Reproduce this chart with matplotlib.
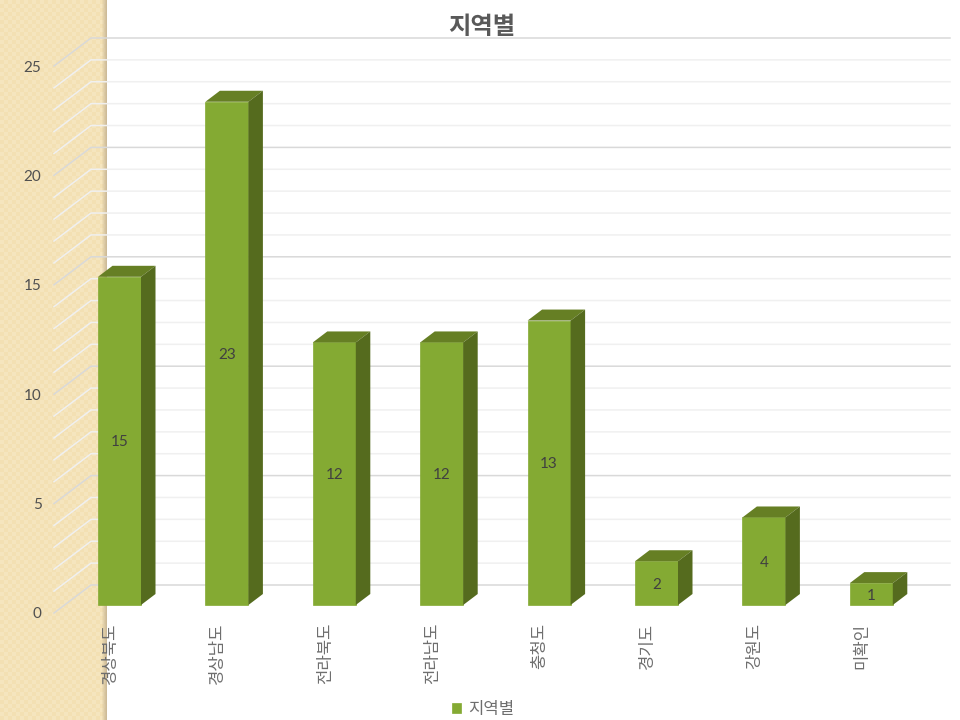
import numpy as np
import matplotlib
matplotlib.use('Agg')
import matplotlib.pyplot as plt

plt.rcParams['font.family'] = ['Lato', 'Noto Sans CJK KR', 'DejaVu Sans']

regions = ['경상북도', '경상남도', '전라북도', '전라남도', '충청도', '경기도', '강원도', '미확인']
counts = [15, 23, 12, 12, 13, 2, 4, 1]
y_ticks = [0, 5, 10, 15, 20, 25]
grid_values = list(range(0, 26))
series_name = '지역별'

W, H = 960, 720
# pixel geometry of the plot box
left, right, top, bottom = 54, 950, 38, 613
cat_px = 107.4
val_px = 21.88
first_bar_px = 119.5

# fake 3d offsets, converted to data units
lift = 8 / val_px
bar_dx = 14.5 / cat_px
bar_dy = 11 / val_px
wall_dx = 37 / cat_px
wall_dy = 28 / val_px
bar_width = 43 / cat_px

fig = plt.figure(figsize=(W / 100, H / 100), dpi=100, facecolor='white')

# tan side panel of the slide, behind the chart
panel = fig.add_axes([0, 0, 107 / W, 1], zorder=0)
yy, xx = np.indices((H, 107))
checker = ((xx // 4 + yy // 4) % 2).astype(float)
base = np.array([245, 229, 190]) / 255
alt = np.array([243, 224, 179]) / 255
img = base + (alt - base) * checker[..., None]
shade = np.clip((xx - 101) / 5, 0, 1)[..., None]
img = img * (1 - shade) + np.array([205, 187, 152]) / 255 * shade
panel.imshow(img, aspect='auto', interpolation='nearest')
panel.axis('off')

ax = fig.add_axes([left / W, 1 - bottom / H, (right - left) / W, (bottom - top) / H], zorder=1)
ax.patch.set_alpha(0)
ax.set_xlim((left - first_bar_px) / cat_px, (right - first_bar_px) / cat_px)
ax.set_ylim(0, (bottom - top) / val_px)
for s in ax.spines.values():
    s.set_visible(False)

# back wall gridlines, with the diagonal piece down the side wall
x0, x1 = ax.get_xlim()
for v in grid_values:
    major = v % 5 == 0
    ax.plot([x0, x0 + wall_dx, x1], [v, v + wall_dy, v + wall_dy],
            color='#D9D9D9' if major else '#F0F0F0', lw=1.1, zorder=1, clip_on=False)

x = np.arange(len(regions))
h = np.array(counts, dtype=float)
bars = ax.bar(x, h, bar_width, bottom=lift, color='#84AA33', edgecolor='#84AA33', lw=0.5,
              zorder=3, label=series_name)

for xi, v in zip(x, h):
    l = xi - bar_width / 2
    r = xi + bar_width / 2
    t = v + lift
    # top and side faces
    ax.fill([l, r, r + bar_dx, l + bar_dx], [t, t, t + bar_dy, t + bar_dy], color='#667F24', lw=0, zorder=3)
    ax.fill([r, r + bar_dx, r + bar_dx, r], [lift, lift + bar_dy, t + bar_dy, t], color='#556B1E', lw=0, zorder=3)
    ax.text(xi, lift + v / 2 - 0.07, '%d' % v, ha='center', va='center', fontsize=11, color='#404040', zorder=4)

ax.set_yticks(y_ticks)
ax.set_yticklabels([str(v) for v in y_ticks], fontsize=11, color='#505050')
ax.tick_params(axis='y', length=0, pad=9)

ax.set_xticks(x - 0.09)
ax.set_xticklabels(regions, rotation=90, fontsize=12, color='#6E6E6E', va='top', ha='center')
ax.tick_params(axis='x', length=0, pad=7)

ax.set_title('지역별', fontsize=17.5, fontweight='bold', color='#595959',
             x=(482 - left) / (right - left), pad=-2)

leg = ax.legend(handles=[bars], loc='center', bbox_to_anchor=(483 / W, 1 - 709 / H),
                bbox_transform=fig.transFigure, frameon=False, fontsize=12, labelcolor='#6E6E6E',
                handlelength=0.55, handleheight=0.6, handletextpad=0.45)

fig.savefig('out.png', dpi=100)
